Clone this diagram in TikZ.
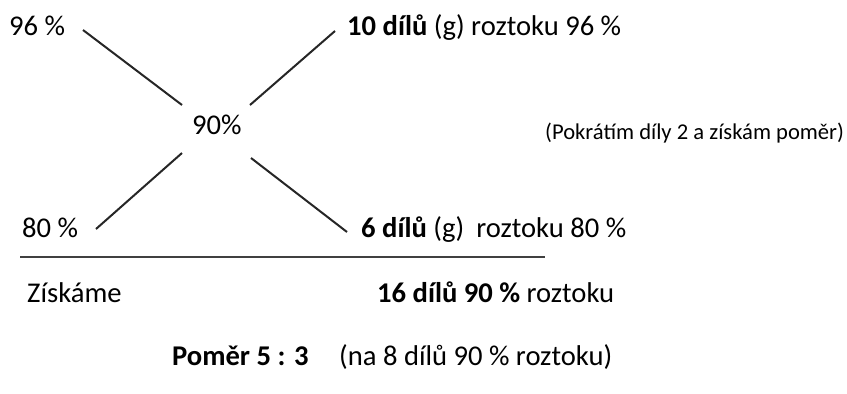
\documentclass[tikz,border=0pt]{standalone}
\usepackage{fontspec}
\setmainfont{Carlito}
\begin{document}
\begin{tikzpicture}[x=1pt,y=-1pt,
  txt/.style={anchor=base west,inner sep=0pt,font=\fontsize{28.6}{33}\selectfont},
  small/.style={anchor=base west,inner sep=0pt,font=\fontsize{22.6}{26}\selectfont},
  cross/.style={line width=2pt,black!85},
  rule/.style={line width=1.3pt,black!75}]
\useasboundingbox (0,0) rectangle (847,394);
\node[txt] (a) at (9,35) {96 \%};
\node[txt] (r1) at (347,35) {\textbf{10 dílů} (g) roztoku 96 \%};
\node[txt] (m) at (192,134) {90\%};
\node[small] (note) at (545,139) {(Pokrátím díly 2 a získám poměr)};
\node[txt] (b) at (22,237) {80 \%};
\node[txt] (r2) at (361,237) {\textbf{6 dílů} (g)\hspace{0.42em}roztoku 80 \%};
\node[txt] (z) at (27,302) {Získáme};
\node[txt] (s) at (377,302) {\textbf{16 dílů 90 \%} roztoku};
\node[txt] (p) at (172,365) {\textbf{Poměr 5 : 3}};
\node[txt] (q) at (339,365) {(na 8 dílů 90 \% roztoku)};
\coordinate (ul1) at (83,30); \coordinate (ul2) at (182,105);
\coordinate (ur1) at (250,105); \coordinate (ur2) at (335,31);
\coordinate (ll1) at (182,153); \coordinate (ll2) at (96,229);
\coordinate (lr1) at (251,158); \coordinate (lr2) at (347,232);
\coordinate (h1) at (20,257); \coordinate (h2) at (545,257);
\draw[cross] (ul1) -- (ul2);
\draw[cross] (ur1) -- (ur2);
\draw[cross] (ll1) -- (ll2);
\draw[cross] (lr1) -- (lr2);
\draw[rule] (h1) -- (h2);
\end{tikzpicture}
\end{document}
